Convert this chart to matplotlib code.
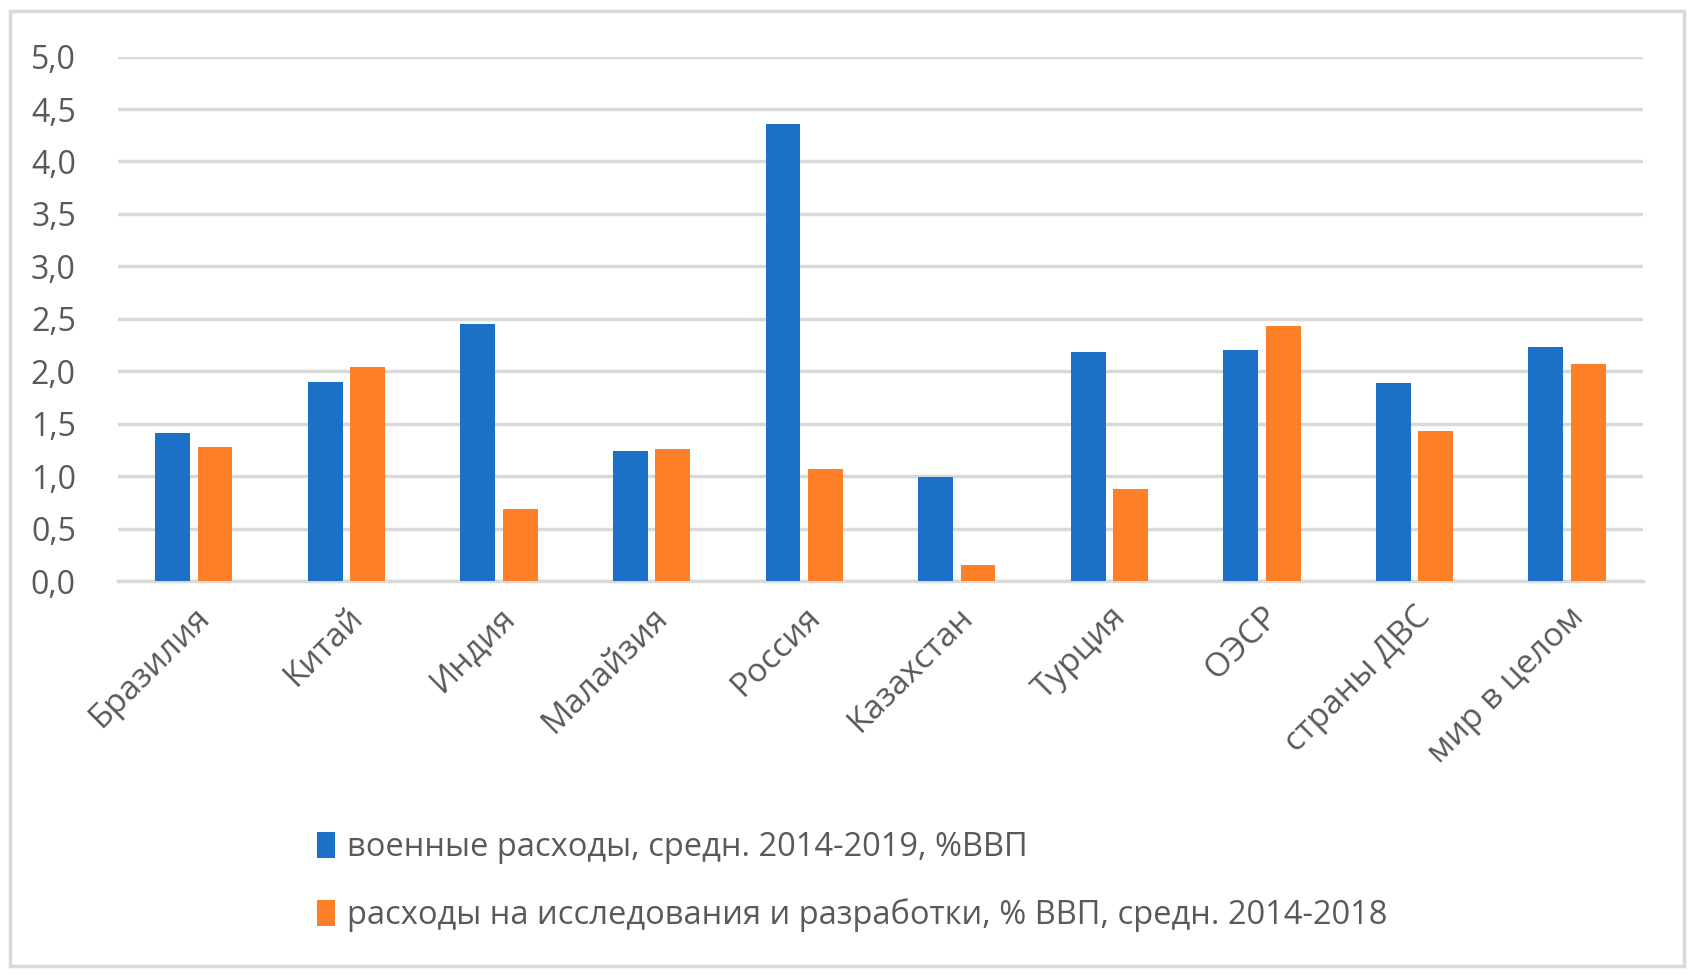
import numpy as np
import matplotlib.pyplot as plt
from matplotlib.patches import Rectangle

plt.rcParams['font.family'] = ['Open Sans', 'DejaVu Sans']

# data
categories = ['Бразилия', 'Китай', 'Индия', 'Малайзия', 'Россия', 'Казахстан',
              'Турция', 'ОЭСР', 'страны ДВС', 'мир в целом']
military = [1.41, 1.90, 2.45, 1.24, 4.36, 0.99, 2.18, 2.20, 1.89, 2.23]
rnd = [1.28, 2.04, 0.69, 1.26, 1.07, 0.155, 0.88, 2.43, 1.43, 2.07]
label_mil = 'военные расходы, средн. 2014-2019, %ВВП'
label_rnd = 'расходы на исследования и разработки, % ВВП, средн. 2014-2018'

blue = '#1A71C7'
orange = '#FF7F27'
txt = '#595959'

fig = plt.figure(figsize=(17.03, 9.75), dpi=100)
ax = fig.add_axes([0.069, 0.404, 0.896, 0.538])

x = np.arange(len(categories))
w = 0.228
off = 0.139
ax.bar(x - off, military, w, color=blue, label=label_mil, zorder=3)
ax.bar(x + off, rnd, w, color=orange, label=label_rnd, zorder=3)

ax.set_xlim(-0.5, len(categories) - 0.5)
ax.set_ylim(0, 5.0)
ticks = np.arange(0, 5.01, 0.5)
ax.set_yticks(ticks)
ax.set_yticklabels([f'{v:.1f}'.replace('.', ',') for v in ticks])
ax.yaxis.grid(True, color='#D9D9D9', linewidth=2.5, zorder=0)
ax.set_axisbelow(True)
for s in ['top', 'right', 'left']:
    ax.spines[s].set_visible(False)
ax.spines['bottom'].set_color('#D9D9D9')
ax.spines['bottom'].set_linewidth(2.5)

ax.set_xticks(x)
ax.set_xticklabels(categories, rotation=45, ha='right', rotation_mode='anchor')
ax.tick_params(axis='both', length=0, colors=txt)
ax.tick_params(axis='y', pad=30, labelsize=23)
ax.tick_params(axis='x', pad=14, labelsize=24)

fig.legend(loc='upper left', bbox_to_anchor=(0.169, 0.178), frameon=False,
           fontsize=23.5, labelcolor=txt, handlelength=0.55, handleheight=0.85,
           handletextpad=0.35, labelspacing=1.05)

# outer chart border
fig.patches.append(Rectangle((0.006, 0.009), 0.983, 0.98, transform=fig.transFigure,
                             fill=False, edgecolor='#D9D9D9', linewidth=2.5))

fig.savefig('out.png', dpi=100)
